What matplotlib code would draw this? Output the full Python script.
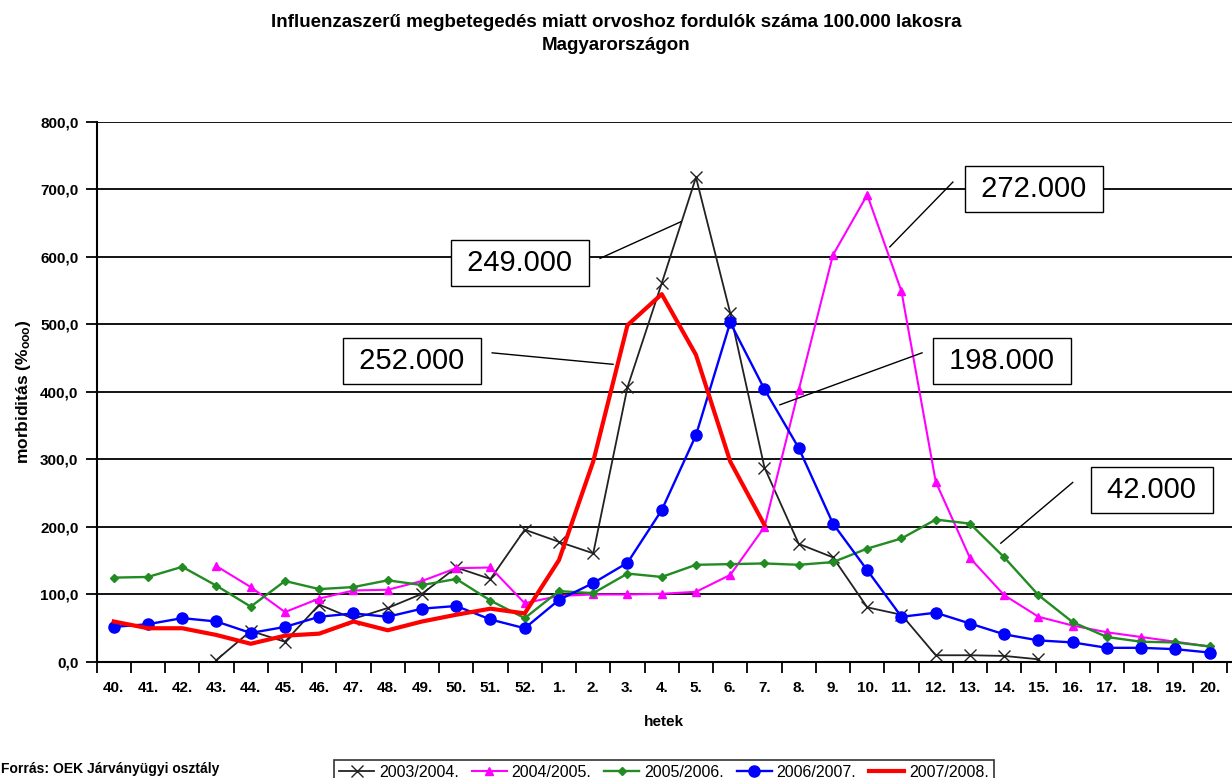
import matplotlib.pyplot as plt
import numpy as np

plt.rcParams["font.family"] = ["Liberation Sans", "DejaVu Sans"]
plt.rcParams["mathtext.fontset"] = "custom"
plt.rcParams["mathtext.rm"] = "Liberation Sans:bold"
plt.rcParams["mathtext.it"] = "Liberation Sans:bold"
plt.rcParams["mathtext.bf"] = "Liberation Sans:bold"

weeks = ["40.", "41.", "42.", "43.", "44.", "45.", "46.", "47.", "48.", "49.", "50.",
         "51.", "52.", "1.", "2.", "3.", "4.", "5.", "6.", "7.", "8.", "9.", "10.",
         "11.", "12.", "13.", "14.", "15.", "16.", "17.", "18.", "19.", "20."]

nan = np.nan
s2003 = [nan, nan, nan, 3, 46, 30, 85, 64, 80, 101, 140, 123, 196, 178, 161, 407, 561,
         718, 517, 288, 175, 155, 81, 70, 10, 10, 9, 4, nan, nan, nan, nan, nan]
s2004 = [nan, nan, nan, 142, 111, 74, 94, 106, 107, 120, 139, 140, 87, 98, 100, 100, 101,
         104, 129, 200, 403, 603, 692, 549, 267, 154, 99, 67, 54, 44, 37, 30, 23]
s2005 = [125, 126, 141, 113, 82, 120, 108, 111, 121, 114, 123, 91, 65, 105, 102, 131, 126,
         144, 145, 146, 144, 148, 168, 183, 211, 205, 155, 99, 59, 37, 30, 29, 23]
s2006 = [52, 56, 65, 60, 43, 52, 67, 72, 67, 79, 83, 63, 50, 92, 117, 147, 225,
         336, 503, 404, 317, 205, 136, 67, 73, 57, 41, 32, 29, 21, 21, 19, 14]
s2007 = [60, 50, 50, 40, 27, 39, 42, 60, 47, 60, 70, 79, 72, 151, 297, 499, 545,
         455, 297, 203, nan, nan, nan, nan, nan, nan, nan, nan, nan, nan, nan, nan, nan]

# callout boxes: text, box centre, leader line start/end (week index, value)
callouts = [
    ("249.000", (11.86, 591), (14.2, 598), (16.55, 652)),
    ("272.000", (26.87, 701), (24.5, 711), (22.66, 615)),
    ("252.000", (8.71, 446), (11.05, 458), (14.58, 441)),
    ("198.000", (25.93, 446), (23.6, 458), (19.45, 381)),
    ("42.000", (30.31, 255), (28.0, 266), (25.9, 176)),
]

fig = plt.figure(figsize=(12.32, 7.78), dpi=100)
ax = fig.add_axes([0.0784, 0.1491, 0.9216, 0.6941])

x = np.arange(len(weeks))
ax.plot(x, s2003, color="#222222", lw=1.3, marker="x", ms=9, mew=1.0, label="2003/2004.")
ax.plot(x, s2004, color="#FF00FF", lw=1.5, marker="^", ms=6, label="2004/2005.")
ax.plot(x, s2005, color="#228B22", lw=1.7, marker="D", ms=4, label="2005/2006.")
ax.plot(x, s2006, color="#0000FF", lw=1.7, marker="o", ms=8, label="2006/2007.")
ax.plot(x, s2007, color="#FF0000", lw=3, label="2007/2008.")

for txt, (bx, by), (lx0, ly0), (lx1, ly1) in callouts:
    ax.plot([lx0, lx1], [ly0, ly1], color="black", lw=1, zorder=5)
    ax.text(bx, by, " " + txt + " ", fontsize=21, ha="center", va="center", zorder=6,
            bbox=dict(boxstyle="square,pad=0.3", fc="white", ec="black", lw=1))

ax.set_ylim(0, 800)
ax.set_xlim(-0.5, 32.65)
ax.set_yticks(np.arange(0, 801, 100))
ax.set_yticklabels([f"{v},0" for v in range(0, 801, 100)], fontsize=11, fontweight="bold")
ax.yaxis.grid(True, color="black", lw=1.3)
ax.set_axisbelow(True)

ax.set_xticks(x)
ax.set_xticklabels(weeks, fontsize=11, fontweight="bold")
ax.set_xticks(np.arange(-0.5, 33, 1), minor=True)
ax.tick_params(axis="x", which="major", length=0, pad=14)
ax.tick_params(axis="x", which="minor", length=8, width=1.3, direction="out")
ax.tick_params(axis="y", length=8, width=1.3, direction="out", pad=5)

for side in ["top", "right"]:
    ax.spines[side].set_visible(False)
ax.spines["left"].set_linewidth(1.5)
ax.spines["bottom"].set_linewidth(1.5)

ax.set_xlabel("hetek", fontsize=11, fontweight="bold", labelpad=14)
ax.set_ylabel(r"morbiditás ($\%_{ooo}$)", fontsize=12.5, fontweight="bold", labelpad=5)

fig.text(0.5, 0.9717, "Influenzaszerű megbetegedés miatt orvoshoz fordulók száma 100.000 lakosra",
         ha="center", va="center", fontsize=13.5, fontweight="bold")
fig.text(0.5, 0.9409, "Magyarországon", ha="center", va="center", fontsize=13.5, fontweight="bold")

fig.text(0.001, 0.011, "Forrás: OEK Járványügyi osztály", fontsize=10, fontweight="bold",
         ha="left", va="center")

leg = fig.legend(loc="upper center", bbox_to_anchor=(0.539, 0.0335), ncol=5, fontsize=11.5,
                 frameon=True, fancybox=False, edgecolor="black", handlelength=2.2,
                 handletextpad=0.3, columnspacing=0.8, borderpad=0.3)
leg.get_frame().set_linewidth(1.2)

fig.savefig("out.png", dpi=100)
